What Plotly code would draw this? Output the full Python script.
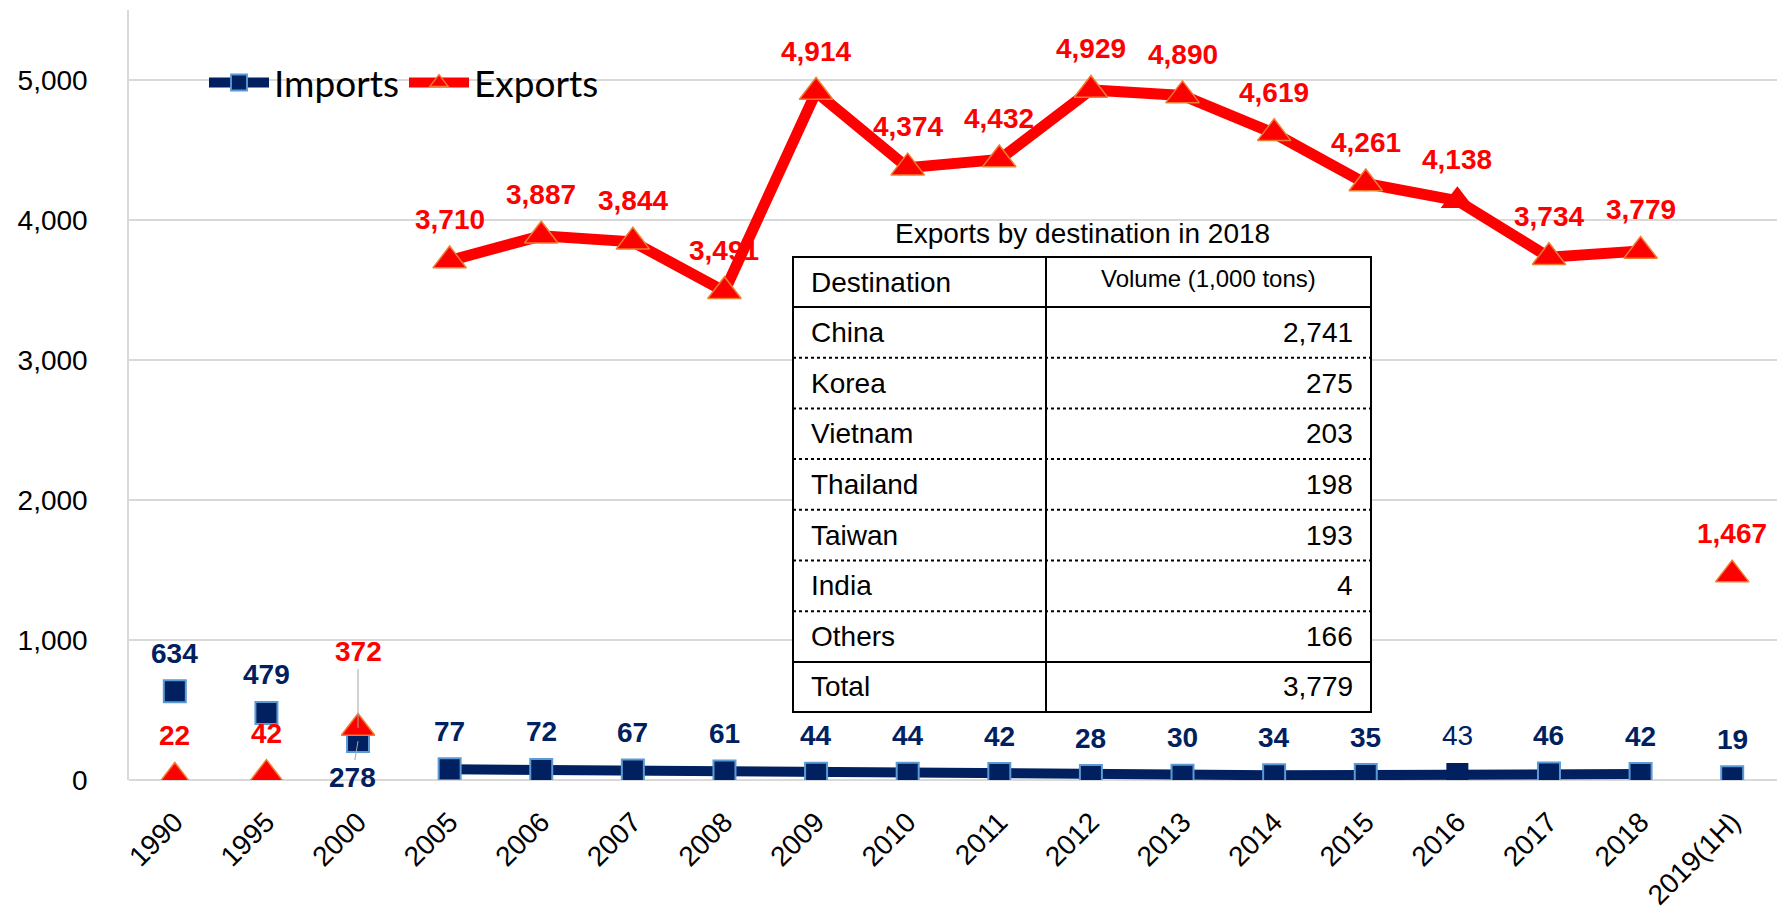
"""
Imports / Exports volume chart with an inset table (Plotly)
"""

import plotly.graph_objects as go

years = ["1990", "1995", "2000", "2005", "2006", "2007", "2008", "2009", "2010",
         "2011", "2012", "2013", "2014", "2015", "2016", "2017", "2018", "2019(1H)"]
imports = [634, 479, 278, 77, 72, 67, 61, 44, 44, 42, 28, 30, 34, 35, 43, 46, 42, 19]
exports = [22, 42, 372, 3710, 3887, 3844, 3491, 4914, 4374, 4432, 4929, 4890,
           4619, 4261, 4138, 3734, 3779, 1467]

# 2005-2018 are joined by a line, the other years are single points
line_years = years[3:17]

table_title = "Exports by destination in 2018"
table_header = ["Destination", "Volume (1,000 tons)"]
destinations = ["China", "Korea", "Vietnam", "Thailand", "Taiwan", "India", "Others"]
volumes = [2741, 275, 203, 198, 193, 4, 166]
total_label = "Total"
total_volume = 3779

NAVY = "#002060"
RED = "#FF0000"
GRID = "#D9D9D9"
FONT = "Liberation Sans, Arial, sans-serif"

W, H = 1785, 912
OFF = 8  # page body margin
L, R, T, B = 121, 15, 2, 140


def px(x):
    # page pixel -> paper x
    return (x - OFF - L) / (W - L - R)


def py(y):
    # page pixel -> paper y
    return (H - B - (y - OFF)) / (H - T - B)


fig = go.Figure()

# imports
imp_line = [v for y, v in zip(years, imports) if y in line_years]
fig.add_trace(go.Scatter(
    x=line_years, y=imp_line, name="Imports", mode="lines+markers",
    line=dict(color=NAVY, width=10),
    marker=dict(symbol="square", size=22, color=NAVY,
                line=dict(color="#5B9BD5", width=[0 if y == "2016" else 2 for y in line_years])),
))
fig.add_trace(go.Scatter(
    x=[y for y in years if y not in line_years],
    y=[v for y, v in zip(years, imports) if y not in line_years],
    mode="markers", showlegend=False,
    marker=dict(symbol="square", size=22, color=NAVY, line=dict(color="#5B9BD5", width=2)),
))

# exports
exp_line = [v for y, v in zip(years, exports) if y in line_years]
fig.add_trace(go.Scatter(
    x=line_years, y=exp_line, name="Exports", mode="lines+markers",
    line=dict(color=RED, width=11),
    marker=dict(symbol="triangle-up", size=29, color=RED,
                line=dict(color="#ED7D31", width=[0 if y == "2016" else 1.5 for y in line_years])),
))
fig.add_trace(go.Scatter(
    x=[y for y in years if y not in line_years],
    y=[v for y, v in zip(years, exports) if y not in line_years],
    mode="markers", showlegend=False,
    marker=dict(symbol="triangle-up", size=29, color=RED, line=dict(color="#ED7D31", width=1.5)),
))

# data labels (x given as category index so "1990" is not read as a number)
for i, (y, v) in enumerate(zip(years, imports)):
    weight = "normal" if y == "2016" else "bold"
    ann = dict(x=i, y=v, text=f"{v:,}", showarrow=False, yshift=38,
               font=dict(family=FONT, size=28, color=NAVY, weight=weight))
    if y == "2000":
        ann.update(yshift=0, showarrow=True, ax=-6, ay=36, arrowhead=0,
                   arrowwidth=1, arrowcolor="#A6A6A6", standoff=0)
    fig.add_annotation(**ann)

for i, (y, v) in enumerate(zip(years, exports)):
    ann = dict(x=i, y=v, text=f"{v:,}", showarrow=False, yshift=41,
               font=dict(family=FONT, size=28, color=RED, weight="bold"))
    if y == "2000":
        ann.update(yshift=0, showarrow=True, ax=0, ay=-76, arrowhead=0,
                   arrowwidth=1, arrowcolor="#A6A6A6", standoff=0)
    fig.add_annotation(**ann)

# inset table (page pixel positions)
tx0, tx1, tmid = 793, 1371, 1046
ty_top, ty_head = 257, 307
row_h = 50.7
ty_total = ty_head + row_h * len(destinations)
ty_bot = ty_total + 50

shapes = [
    dict(type="rect", x0=px(tx0), x1=px(tx1), y0=py(ty_top), y1=py(ty_bot),
         fillcolor="white", line=dict(color="black", width=2)),
    dict(type="line", x0=px(tmid), x1=px(tmid), y0=py(ty_top), y1=py(ty_bot),
         line=dict(color="black", width=2)),
    dict(type="line", x0=px(tx0), x1=px(tx1), y0=py(ty_head), y1=py(ty_head),
         line=dict(color="black", width=2)),
    dict(type="line", x0=px(tx0), x1=px(tx1), y0=py(ty_total), y1=py(ty_total),
         line=dict(color="black", width=2)),
]
for i in range(1, len(destinations)):
    yy = ty_head + row_h * i
    shapes.append(dict(type="line", x0=px(tx0), x1=px(tx1), y0=py(yy), y1=py(yy),
                       line=dict(color="black", width=2, dash="dot")))
for s in shapes:
    s.update(xref="paper", yref="paper", layer="above")
fig.update_layout(shapes=shapes)

tfont = dict(family=FONT, size=28, color="black")
fig.add_annotation(x=px((tx0 + tx1) / 2), y=py(233), xref="paper", yref="paper",
                   xanchor="center", yanchor="middle",
                   text=table_title, showarrow=False, font=tfont)
fig.add_annotation(x=px(809), y=py((ty_top + ty_head) / 2), xref="paper", yref="paper",
                   xanchor="left", yanchor="middle",
                   text=table_header[0], showarrow=False, font=tfont)
fig.add_annotation(x=px((tmid + tx1) / 2), y=py(279), xref="paper", yref="paper",
                   xanchor="center", yanchor="middle",
                   text=table_header[1], showarrow=False,
                   font=dict(family=FONT, size=24, color="black"))
rows = list(zip(destinations, volumes)) + [(total_label, total_volume)]
for i, (name, vol) in enumerate(rows):
    yc = ty_head + row_h * (i + 0.5) if i < len(destinations) else (ty_total + ty_bot) / 2
    fig.add_annotation(x=px(809), y=py(yc), xref="paper", yref="paper", xanchor="left",
                       yanchor="middle", text=name, showarrow=False, font=tfont)
    fig.add_annotation(x=px(1355), y=py(yc), xref="paper", yref="paper", xanchor="right",
                       yanchor="middle", text=f"{vol:,}", showarrow=False, font=tfont)

fig.update_layout(
    width=W, height=H,
    margin=dict(l=L, r=R, t=T, b=B),
    plot_bgcolor="white",
    paper_bgcolor="white",
    showlegend=True,
    legend=dict(orientation="h", x=px(204), y=py(83), xanchor="left", yanchor="middle",
                font=dict(family="Lato, Open Sans, sans-serif", size=37, color="black"),
                bgcolor="rgba(0,0,0,0)", itemwidth=60, tracegroupgap=0),
)
fig.update_xaxes(
    type="category", categoryorder="array", categoryarray=years,
    range=[-0.5, len(years) - 0.5], automargin=False,
    tickangle=-45, showgrid=False, showline=False, zeroline=False,
    tickfont=dict(family=FONT, size=28, color="black"), ticklabelstandoff=19,
)
fig.update_yaxes(
    range=[0, 5500], dtick=1000, tickformat=",", showgrid=True, gridcolor=GRID, gridwidth=1.5,
    zeroline=True, zerolinecolor=GRID, zerolinewidth=1.5, automargin=False,
    showline=True, linecolor=GRID, linewidth=1.5,
    tickfont=dict(family=FONT, size=28, color="black"), ticklabelstandoff=34,
)

fig.write_html("out.html")
